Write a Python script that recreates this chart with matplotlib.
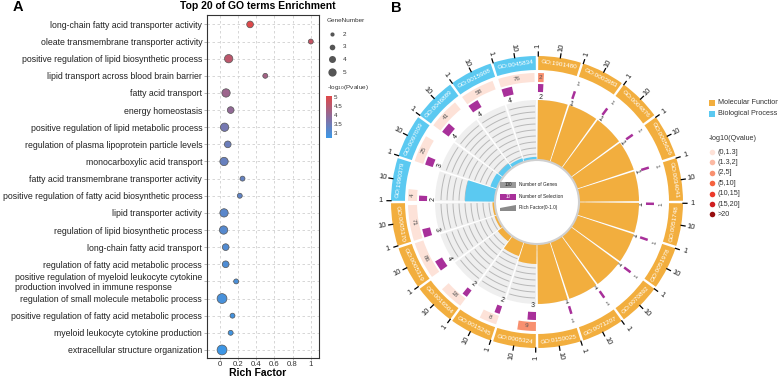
import numpy as np
import matplotlib.pyplot as plt
from matplotlib.patches import Wedge, Circle, Rectangle, Polygon
from matplotlib.colors import LinearSegmentedColormap

plt.rcParams['font.family'] = ['Liberation Sans', 'DejaVu Sans']

# ---- panel A: bubble chart
terms = ["long-chain fatty acid transporter activity",
         "oleate transmembrane transporter activity",
         "positive regulation of lipid biosynthetic process",
         "lipid transport across blood brain barrier",
         "fatty acid transport",
         "energy homeostasis",
         "positive regulation of lipid metabolic process",
         "regulation of plasma lipoprotein particle levels",
         "monocarboxylic acid transport",
         "fatty acid transmembrane transporter activity",
         "positive regulation of fatty acid biosynthetic process",
         "lipid transporter activity",
         "regulation of lipid biosynthetic process",
         "long-chain fatty acid transport",
         "regulation of fatty acid metabolic process",
         "positive regulation of myeloid leukocyte cytokine\nproduction involved in immune response",
         "regulation of small molecule metabolic process",
         "positive regulation of fatty acid metabolic process",
         "myeloid leukocyte cytokine production",
         "extracellular structure organization"]
rich_factor = [0.333, 1.0, 0.098, 0.5, 0.069, 0.12, 0.053, 0.088, 0.047, 0.25,
               0.22, 0.047, 0.042, 0.065, 0.065, 0.18, 0.025, 0.14, 0.12, 0.025]
gene_number = [3, 2, 4, 2, 4, 3, 4, 3, 4, 2, 2, 4, 4, 3, 3, 2, 5, 2, 2, 5]
log_p = [5.0, 4.65, 4.55, 4.2, 4.1, 3.95, 3.55, 3.4, 3.35, 3.3,
         3.25, 3.15, 3.1, 3.05, 3.0, 2.95, 2.9, 2.85, 2.8, 2.75]

# ---- panel B: circos
go_ids = ["GO:1901480", "GO:0003983", "GO:0004876", "GO:0005626", "GO:0034041",
          "GO:0051748", "GO:0051978", "GO:0070892", "GO:0071207", "GO:0150025",
          "GO:0005324", "GO:0015245", "GO:0016504", "GO:0005319", "GO:0005170",
          "GO:1990379", "GO:0097009", "GO:0046889", "GO:0015908", "GO:0045834"]
go_class = ["Molecular Function"] * 15 + ["Biological Process"] * 5
go_genes = [2, 1, 1, 1, 1, 1, 1, 1, 1, 1, 9, 8, 18, 86, 71, 4, 25, 41, 58, 76]
go_selected = [2, 1, 1, 1, 1, 1, 1, 1, 1, 1, 3, 2, 2, 4, 3, 2, 3, 4, 4, 4]
go_qbin = [2, 0, 0, 0, 0, 0, 0, 0, 0, 0, 2, 0, 0, 0, 0, 0, 0, 0, 0, 0]

q_bins = ["(0,1.3]", "(1.3,2]", "(2,5]", "(5,10]", "(10,15]", "(15,20]", ">20"]
q_colors = ['#fde2d8', '#fbb9a3', '#f8906f', '#f5623f', '#ec3a2b', '#cf1f20', '#960d0e']
class_colors = {"Molecular Function": '#f2ae3e', "Biological Process": '#5bc9f1'}
purple = '#a8309a'

fig = plt.figure(figsize=(7.78, 3.79), dpi=100)

# ================= A
axA = fig.add_axes([207/778, 21/379, 112/778, 343/379])
cmap = LinearSegmentedColormap.from_list('pv', ['#3a98e8', '#8c6c9c', '#e04848'])
ypos = np.arange(len(terms))
sizes = 4.5 * np.array(gene_number) ** 1.5
sc = axA.scatter(rich_factor, ypos, s=sizes, c=log_p, cmap=cmap, vmin=2.7, vmax=5.05,
                 edgecolors='#555555', linewidths=0.5, zorder=3)
axA.set_xlim(-0.14, 1.09)
axA.set_ylim(len(terms) - 0.53, -0.55)
axA.set_yticks(ypos)
axA.set_yticklabels(terms, fontsize=6.3, color='#222222')
for lab in axA.get_yticklabels():
    if '\n' in lab.get_text():
        lab.set_multialignment('left')
        lab.set_linespacing(1.05)
axA.set_xticks([0, 0.2, 0.4, 0.6, 0.8, 1])
axA.set_xticklabels(['0', '0.2', '0.4', '0.6', '0.8', '1'], fontsize=5.6, color='#333333')
axA.tick_params(axis='y', length=2, width=0.5, color='#999999', pad=1.5)
axA.tick_params(axis='x', length=1.5, width=0.5, color='#999999', pad=0.8)
axA.grid(True, ls=(0, (3, 3)), color='#d0d0d0', lw=0.6)
axA.set_axisbelow(True)
for sp in axA.spines.values():
    sp.set_color('#333333')
    sp.set_linewidth(0.8)

cax = fig.add_axes([326/778, 1 - 138/379, 6/778, 42/379])
cb = fig.colorbar(sc, cax=cax, ticks=[3, 3.5, 4, 4.5, 5])
cb.outline.set_visible(False)
cb.ax.set_yticklabels(['3', '3.5', '4', '4.5', '5'])
cax.tick_params(length=0, labelsize=4.5, pad=1.5, colors='#333333')

# ================= overlay in pixel coordinates
ov = fig.add_axes([0, 0, 1, 1])
ov.set_xlim(0, 778)
ov.set_ylim(379, 0)
ov.axis('off')

ov.text(13, 7, 'A', fontsize=10.5, fontweight='bold', va='center')
ov.text(391, 8, 'B', fontsize=10.5, fontweight='bold', va='center')
ov.text(258, 6, 'Top 20 of GO terms Enrichment', fontsize=7.5, fontweight='bold',
        ha='center', va='center')
ov.text(258, 373.5, 'Rich Factor', fontsize=7.5, fontweight='bold', ha='center', va='center')

# gene number legend
ov.text(327, 20, 'GeneNumber', fontsize=4.6, va='center', color='#333333')
leg_n = [2, 3, 4, 5]
for i, n in enumerate(leg_n):
    yy = 34 + i * 12.7
    ov.scatter([332], [yy], s=0.7 * 4.5 * n ** 1.5, color='#555555', lw=0)
    ov.text(343, yy, str(n), fontsize=4.6, va='center', color='#333333')
ov.text(327, 87, r'-log$_{10}$(Pvalue)', fontsize=4.6, va='center', color='#333333')

# circos geometry
cx, cy = 537, 202
R_in, R_rf = 42, 102
gap = 1.0
W = 18 - gap
D = 8.7


def pt(theta, r):
    phi = np.deg2rad(np.asarray(theta) - 90)
    return cx + r * np.cos(phi), cy + r * np.sin(phi)


def tang_rot(theta):
    rot = (-theta) % 360
    if 90 < rot < 270:
        rot -= 180
    return rot


def rad_rot(theta):
    a = (90 - theta) % 360
    if 90 < a < 270:
        a -= 180
    return a


for k in range(len(go_ids)):
    ts = 18 * k + gap / 2
    te = ts + W
    tm = (ts + te) / 2
    col = class_colors[go_class[k]]

    # outer GO box
    ov.add_patch(Wedge((cx, cy), 146, ts - 90, te - 90, width=14, fc=col, ec='none'))
    x, y = pt(tm, 139)
    ov.text(x, y, go_ids[k], rotation=tang_rot(tm), ha='center', va='center',
            rotation_mode='anchor', fontsize=4.6, color='white')
    for v in [1, 10]:
        t = ts + np.log10(v) * D
        x0, y0 = pt(t, 146)
        x1, y1 = pt(t, 150)
        ov.plot([x0, x1], [y0, y1], color='black', lw=0.9)
        x2, y2 = pt(t, 156)
        ov.text(x2, y2, str(v), rotation=rad_rot(t), ha='center', va='center',
                rotation_mode='anchor', fontsize=5.5, color='#222222')

    # number of genes
    g = go_genes[k]
    w = np.log10(g) * D
    if g > 1:
        ov.add_patch(Wedge((cx, cy), 129, ts - 90, ts + w - 90, width=9,
                           fc=q_colors[go_qbin[k]], ec='none'))
    x, y = pt(ts + max(w / 2, 0.6), 124.5)
    ov.text(x, y, str(g), rotation=tang_rot(ts + w / 2), ha='center', va='center',
            rotation_mode='anchor', fontsize=4.6, color='#555555')

    # number of selection
    s = go_selected[k]
    w = np.log10(s) * D
    if s > 1:
        ov.add_patch(Wedge((cx, cy), 118, ts - 90, ts + w - 90, width=8, fc=purple, ec='none'))
    else:
        x0, y0 = pt(ts + 0.4, 109)
        x1, y1 = pt(ts + 0.4, 117)
        ov.plot([x0, x1], [y0, y1], color=purple, lw=1.8, solid_capstyle='butt')
    x, y = pt(ts + max(w / 2, 0.6), 104)
    ov.text(x, y, str(s), rotation=tang_rot(ts + w / 2), ha='center', va='center',
            rotation_mode='anchor', fontsize=5.0, color='#222222')

    # rich factor
    ov.add_patch(Wedge((cx, cy), R_rf, ts - 90, te - 90, width=R_rf - R_in,
                       fc='#efefef', ec='none'))
    for f in np.arange(0.1, 0.95, 0.1):
        th = np.linspace(ts + 1.0, te - 1.0, 30)
        xs, ys = pt(th, R_in + f * (R_rf - R_in))
        ov.plot(xs, ys, color='#b8b8b8', lw=0.7)
    rf = s / g
    ov.add_patch(Wedge((cx, cy), R_in + rf * (R_rf - R_in), ts - 90, te - 90,
                       width=rf * (R_rf - R_in), fc=col, ec='none', zorder=3))

ov.add_patch(Circle((cx, cy), R_in, fc='white', ec='#d0d0d0', lw=1.5, zorder=5))

# inner legend
ov.add_patch(Rectangle((500, 182), 16, 6, fc='#9a9a9a', ec='none', zorder=6))
ov.text(508, 185, '100', fontsize=3.3, ha='center', va='center', color='#222222', zorder=7)
ov.add_patch(Rectangle((500, 194), 16, 6, fc=purple, ec='none', zorder=6))
ov.text(508, 197, '10', fontsize=3.3, ha='center', va='center', color='white', zorder=7)
ov.add_patch(Polygon([(500, 211), (516, 211), (516, 205), (500, 208)], fc='#8a8a8a',
                     ec='none', zorder=6))
for yy, txt in zip([185, 197, 208], ['Number of Genes', 'Number of Selection',
                                     'Rich Factor(0-1.0)']):
    ov.text(519, yy, txt, fontsize=3.4, va='center', color='#222222', zorder=7)

# right legend
for i, name in enumerate(class_colors):
    yy = 103 + i * 10.5
    ov.scatter([712], [yy], marker='s', s=20, color=class_colors[name], lw=0)
    ov.text(718, yy, name, fontsize=5.2, va='center', color='#333333')
ov.text(709, 138, '-log10(Qvalue)', fontsize=5.2, va='center', color='#333333')
for i, (lab, c) in enumerate(zip(q_bins, q_colors)):
    yy = 152 + i * 10.4
    ov.scatter([712], [yy], s=16, color=c, lw=0)
    ov.text(718, yy, lab, fontsize=5.2, va='center', color='#333333')

fig.savefig('out.png', dpi=100)
